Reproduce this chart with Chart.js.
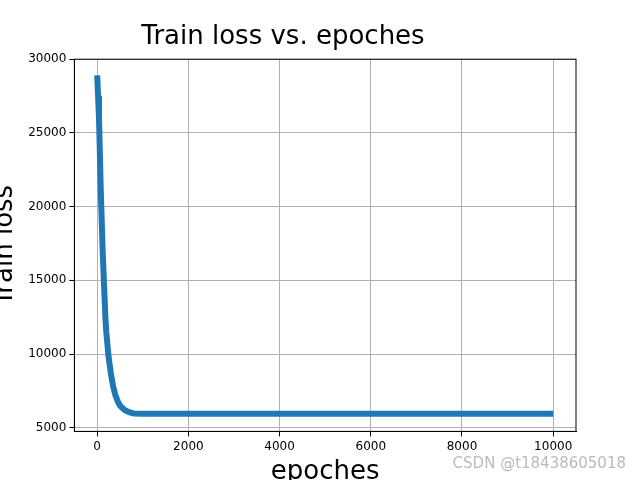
<!DOCTYPE html>
<html>
<head>
<meta charset="utf-8">
<script src="https://cdn.jsdelivr.net/npm/chart.js@4"></script>
<style>
  body { margin: 0; background: #fff; overflow: hidden; }
  #wrap { position: relative; width: 640px; height: 480px; overflow: hidden; }
  #mark { position: absolute; right: 14px; bottom: 8px; font: 15px "DejaVu Sans"; color: #bbb; }
</style>
</head>
<body>
<div id="wrap">
  <canvas id="lossChart" width="640" height="480"></canvas>
  <div id="mark">CSDN @t18438605018</div>
</div>
<script>
// Loss values
const epochs = [0, 20, 40, 60, 80, 100, 120, 140, 160, 180, 200, 250, 300, 350, 400, 450, 500, 600, 700, 800, 1000, 2000, 4000, 6000, 8000, 10000];
const losses = [28900, 27500, 26000, 23500, 21000, 19000, 17000, 15500, 14000, 12500, 11500, 9800, 8700, 7800, 7200, 6800, 6500, 6200, 6050, 5970, 5950, 5950, 5950, 5950, 5950, 5950];
const xTicks = [0, 2000, 4000, 6000, 8000, 10000];
const yTicks = [5000, 10000, 15000, 20000, 25000, 30000];

const frameBox = {
    id: 'frameBox',
    afterDraw(chart) {
        const a = chart.chartArea, c = chart.ctx;
        c.save();
        c.strokeStyle = '#000';
        c.lineWidth = 1;
        c.strokeRect(a.left, a.top, a.right - a.left, a.bottom - a.top);
        c.restore();
    }
};

Chart.defaults.font.family = 'DejaVu Sans';
Chart.defaults.color = '#000';

new Chart(document.getElementById('lossChart'), {
    type: 'line',
    data: {
        datasets: [{
            data: epochs.map((e, i) => ({ x: e, y: losses[i] })),
            borderColor: '#1f77b4',
            backgroundColor: '#1f77b4',
            borderWidth: 6,
            pointRadius: 0,
            fill: false
        }]
    },
    options: {
        responsive: false,
        animation: false,
        layout: { padding: { left: -10, right: 64, top: 0, bottom: -8 } },
        plugins: {
            legend: { display: false },
            tooltip: { enabled: false },
            title: { display: true, text: 'Train loss vs. epoches', font: { size: 26, weight: 'normal' }, padding: { top: 22, bottom: 6 } }
        },
        scales: {
            x: {
                type: 'linear', min: -500, max: 10500,
                afterBuildTicks: s => { s.ticks = xTicks.map(v => ({ value: v })); },
                ticks: { font: { size: 12 }, maxRotation: 0, callback: v => v },
                grid: { color: '#b0b0b0', tickColor: '#000', tickLength: 5 },
                border: { color: '#000' },
                title: { display: true, text: 'epoches', font: { size: 26 }, padding: { top: 0, bottom: 0 } }
            },
            y: {
                min: 4750, max: 30000,
                afterBuildTicks: s => { s.ticks = yTicks.map(v => ({ value: v })); },
                ticks: { font: { size: 12 }, callback: v => v },
                grid: { color: '#b0b0b0', tickColor: '#000', tickLength: 5 },
                border: { color: '#000' },
                title: { display: true, text: 'Train loss', font: { size: 26 }, padding: { top: 0, bottom: 4 } }
            }
        }
    },
    plugins: [frameBox]
});
</script>
</body>
</html>
